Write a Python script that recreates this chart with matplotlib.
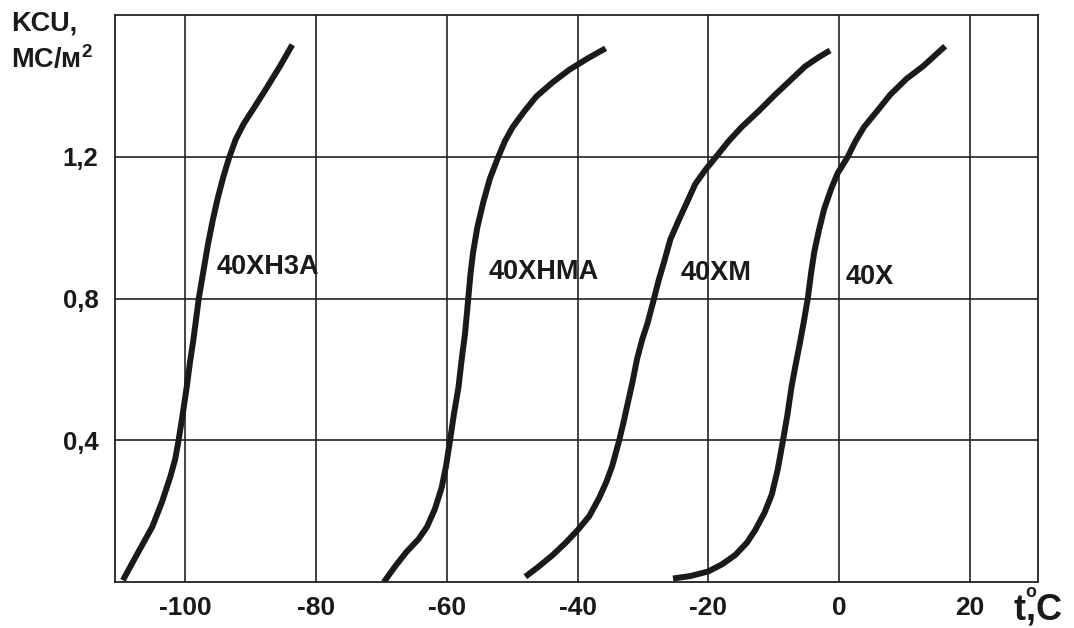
import numpy as np
import matplotlib
matplotlib.use('Agg')
import matplotlib.pyplot as plt

# Ударная вязкость KCU в зависимости от температуры испытания для хромистых сталей
steel_names = ['40ХН3А', '40ХНМА', '40ХМ', '40Х']

t_40hn3a = [-109.5, -107.25, -105.0, -103.5, -102.25, -101.5, -101.0, -100.4, -99.75, -99.25, -98.75,
            -98.25, -97.9, -97.25, -96.5, -95.75, -95.0, -94.15, -93.25, -92.25, -91.0, -89.25, -87.5,
            -85.5, -83.6]
kcu_40hn3a = [0.005, 0.081, 0.156, 0.227, 0.297, 0.347, 0.398, 0.468, 0.549, 0.619, 0.680,
              0.750, 0.800, 0.871, 0.952, 1.022, 1.083, 1.143, 1.198, 1.249, 1.294, 1.344, 1.395,
              1.455, 1.516]

t_40hnma = [-69.6, -67.85, -66.1, -64.3, -63.0, -61.8, -60.76, -60.1, -59.5, -58.9, -58.2, -57.7,
            -57.2, -56.7, -56.35, -55.95, -55.3, -54.4, -53.4, -52.15, -51.1, -49.9, -48.1, -46.3,
            -43.8, -41.3, -38.5, -35.7]
kcu_40hnma = [0.0, 0.045, 0.086, 0.121, 0.156, 0.206, 0.267, 0.327, 0.398, 0.473, 0.549, 0.629,
              0.700, 0.800, 0.871, 0.932, 1.002, 1.072, 1.138, 1.198, 1.244, 1.284, 1.329, 1.370,
              1.410, 1.445, 1.477, 1.506]

t_40hm = [-47.97, -45.84, -43.8, -41.8, -40.0, -38.2, -36.7, -35.6, -34.7, -33.65, -33.0, -32.4,
          -31.6, -30.9, -30.1, -29.3, -28.3, -27.6, -26.8, -25.8, -24.5, -23.25, -22.0, -20.45,
          -18.9, -16.9, -14.9, -12.3, -9.8, -7.5, -5.2, -3.2, -1.4]
kcu_40hm = [0.015, 0.045, 0.076, 0.111, 0.146, 0.186, 0.237, 0.282, 0.327, 0.398, 0.448, 0.498,
            0.564, 0.629, 0.685, 0.730, 0.800, 0.851, 0.901, 0.967, 1.022, 1.072, 1.123, 1.163,
            1.198, 1.244, 1.284, 1.329, 1.375, 1.415, 1.455, 1.480, 1.500]

t_40h = [-25.4, -22.7, -20.0, -17.9, -15.9, -14.1, -12.85, -11.4, -10.3, -9.4, -8.6, -7.9, -7.3,
         -6.7, -6.05, -5.4, -4.8, -4.3, -3.8, -3.1, -2.3, -1.25, -0.25, 1.26, 2.5, 3.8, 5.8, 7.8,
         10.3, 12.8, 16.2]
kcu_40h = [0.010, 0.017, 0.030, 0.050, 0.076, 0.111, 0.146, 0.196, 0.247, 0.317, 0.398, 0.473,
           0.549, 0.609, 0.670, 0.735, 0.800, 0.871, 0.932, 0.992, 1.052, 1.108, 1.153, 1.198,
           1.244, 1.284, 1.329, 1.375, 1.420, 1.455, 1.512]

label_t = [-95.2, -53.6, -24.2, 1.0]
label_kcu = [0.888, 0.875, 0.872, 0.862]

x_ticks = [-100, -80, -60, -40, -20, 0, 20]
y_ticks = [0.4, 0.8, 1.2]
y_tick_labels = ['0,4', '0,8', '1,2']

plt.rcParams['font.family'] = ['Liberation Sans', 'DejaVu Sans']
plt.rcParams['font.weight'] = 'bold'
plt.rcParams['mathtext.fontset'] = 'custom'
plt.rcParams['mathtext.rm'] = 'Liberation Sans:bold'
plt.rcParams['mathtext.bf'] = 'Liberation Sans:bold'

ink = '#1a1a1a'

fig = plt.figure(figsize=(10.74, 6.28), dpi=100)
ax = fig.add_axes([0.1071, 0.0732, 0.8594, 0.9029])

curves = [(t_40hn3a, kcu_40hn3a), (t_40hnma, kcu_40hnma), (t_40hm, kcu_40hm), (t_40h, kcu_40h)]
for (t, kcu) in curves:
    ax.plot(t, kcu, color=ink, lw=4.3, solid_joinstyle='round', solid_capstyle='butt', zorder=3)

for name, tx, ty in zip(steel_names, label_t, label_kcu):
    ax.text(tx, ty, name, fontsize=19.5, fontweight='bold', color=ink,
            ha='left', va='center', zorder=4)

ax.set_xlim(-110.7, 30.4)
ax.set_ylim(0, 1.6)
ax.set_xticks(x_ticks)
ax.set_xticklabels([str(v) for v in x_ticks])
ax.set_yticks(y_ticks)
ax.set_yticklabels(y_tick_labels)
ax.tick_params(length=0, colors=ink)
ax.tick_params(axis='x', pad=10, labelsize=19)
ax.tick_params(axis='y', pad=12, labelsize=18.5)
ax.grid(True, color='#222222', lw=1.2)
for s in ax.spines.values():
    s.set_color('#222222')
    s.set_linewidth(1.3)

# подпись оси ординат в левом верхнем углу
fig.text(0.010, 0.962, 'KCU,', fontsize=19.5, fontweight='bold', color=ink, ha='left', va='center')
fig.text(0.010, 0.905, r'МС/м$^{2}$', fontsize=19.5, fontweight='bold', color=ink, ha='left', va='center')

# подпись оси абсцисс: t,°C с градусом над запятой (одной строкой mathtext)
fig.text(0.943, 0.034, r'$\mathrm{t}^{{}^{\mathrm{o}}}\!\!{,}\mathrm{C}$', fontsize=26,
         color=ink, ha='left', va='center')

fig.savefig('out.png', dpi=100)
